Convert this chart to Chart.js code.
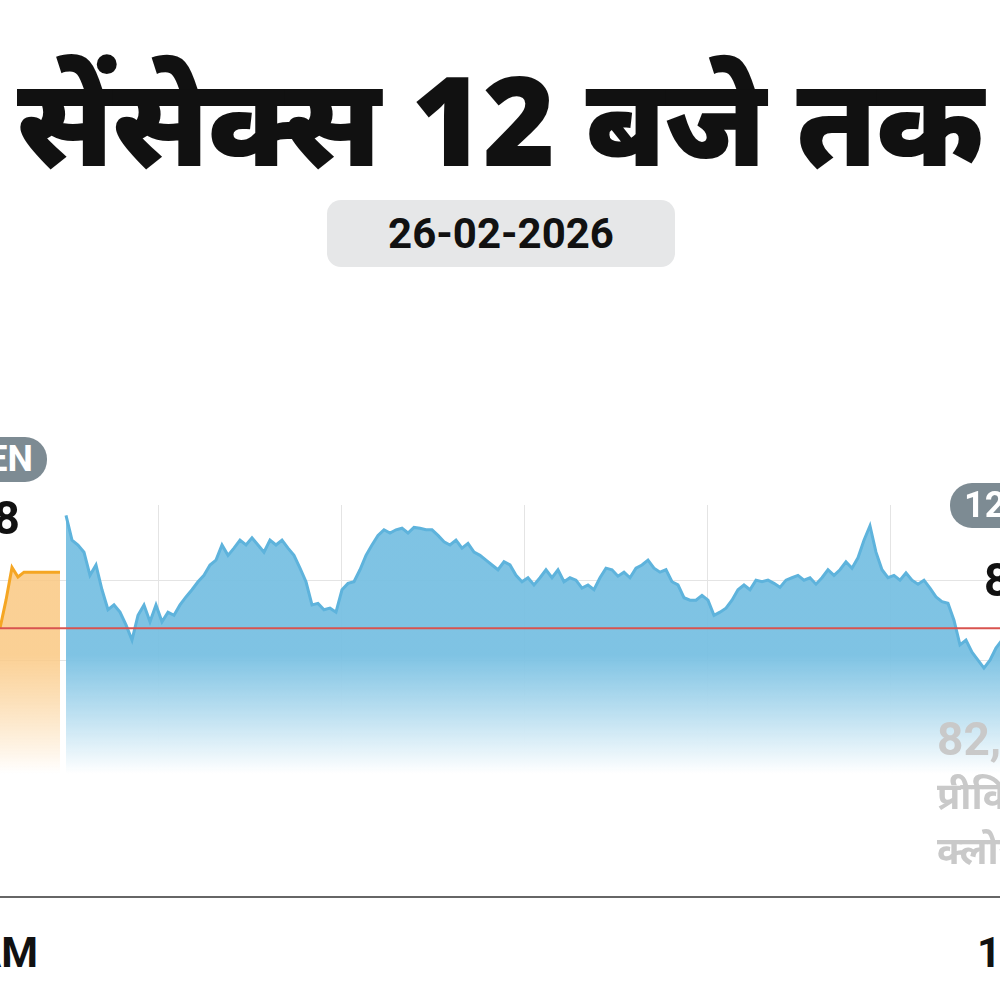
<!DOCTYPE html>
<html><head><meta charset="utf-8">
<script src="https://cdn.jsdelivr.net/npm/chart.js@4"></script>
<style>
html,body{margin:0;padding:0;width:1000px;height:1000px;overflow:hidden;background:#fff;font-family:"Liberation Sans Narrow","Roboto","Noto Sans",sans-serif;}
.t{position:absolute;white-space:nowrap;font-weight:bold;z-index:5;}
#wrap{position:absolute;left:0;top:505px;width:1000px;height:395px;z-index:1;}
</style></head><body>
<div class="t" style="left:-20px;width:1040px;top:48px;text-align:center;font-size:124px;line-height:140px;color:#111;font-family:'Noto Sans','Lato',sans-serif;font-weight:900;letter-spacing:-1px;">सेंसेक्स 12 बजे तक</div>
<div class="t" style="left:327px;top:200px;width:348px;height:67px;border-radius:14px;background:#e6e7e8;text-align:center;line-height:67px;font-size:42px;color:#111;">26-02-2026</div>
<div class="t" style="right:953px;top:437px;height:45px;padding:0 14px 0 30px;border-radius:22px;background:#7d8b93;color:#fff;line-height:45px;font-size:36px;">OPEN</div>
<div class="t" style="right:980px;top:490px;font-size:46px;line-height:56px;color:#111;">82,308</div>
<div class="t" style="left:950px;top:483px;height:45px;padding:0 30px 0 14px;border-radius:22px;background:#7d8b93;color:#fff;line-height:45px;font-size:36px;">12:00 PM</div>
<div class="t" style="left:984px;top:552px;font-size:46px;line-height:56px;color:#111;">82,240</div>
<div class="t" style="left:937px;top:712px;font-size:46px;line-height:54px;color:#c9c9c9;">82,248<br><span style="font-family:'Noto Sans',sans-serif;font-size:38px;line-height:54px;">प्रीवियस<br>क्लोज़</span></div>
<div class="t" style="left:0;top:896px;width:1000px;height:2px;background:#666;"></div>
<div class="t" style="right:962px;top:925px;font-size:42px;line-height:56px;color:#111;">9:00 AM</div>
<div class="t" style="left:977px;top:925px;font-size:42px;line-height:56px;color:#111;">12:00 PM</div>
<div id="wrap"><canvas id="c"></canvas></div>
<script>
const prevClose = 82240;
const preOpenMinutes = [-11,-10,-9,-8,-7,-6,-5,-4,-3,-2,-1];
const preOpenValues = [82240,82275,82316,82304,82310,82310,82310,82310,82310,82310,82310];
const sessionValues = [82381,82350,82344,82335,82306,82319,82288,82263,82269,82260,82244,82225,82256,82269,82248,82269,82248,82260,82256,82269,82279,82288,82298,82306,82319,82325,82344,82331,82340,82350,82344,82353,82344,82335,82350,82344,82350,82340,82331,82315,82298,82269,82271,82263,82265,82260,82288,82296,82298,82313,82331,82344,82356,82363,82359,82363,82365,82359,82366,82365,82363,82363,82356,82348,82344,82350,82340,82346,82335,82331,82325,82319,82313,82323,82319,82306,82298,82303,82294,82303,82313,82303,82313,82298,82303,82300,82290,82294,82288,82303,82315,82313,82305,82310,82303,82315,82319,82325,82315,82310,82313,82298,82294,82278,82275,82275,82281,82275,82256,82260,82265,82275,82288,82294,82288,82300,82298,82300,82296,82291,82300,82303,82306,82300,82303,82295,82303,82313,82306,82313,82323,82315,82328,82350,82368,82335,82313,82303,82306,82300,82309,82300,82295,82300,82290,82279,82273,82271,82250,82219,82225,82210,82200,82190,82200,82215,82225,82240];
const gridMinutes = [15.5,46,76.5,107,137.5];
const yGrid = [82200,82300];

const ctx = document.getElementById('c').getContext('2d');
function grad(c, top){
  const a = c.chart.chartArea; if(!a) return top;
  const g = c.chart.ctx.createLinearGradient(0,a.top,0,a.bottom);
  g.addColorStop(0,top); g.addColorStop(0.38,top); g.addColorStop(0.68,'rgba(255,255,255,1)'); g.addColorStop(1,'rgba(255,255,255,1)');
  return g;
}
const refLine = {id:'ref',afterDatasetsDraw(chart){
  const y = chart.scales.y.getPixelForValue(prevClose), a=chart.chartArea, c=chart.ctx;
  c.save(); c.strokeStyle='#d9534f'; c.lineWidth=2; c.beginPath(); c.moveTo(a.left,y); c.lineTo(a.right,y); c.stroke(); c.restore();
}};
new Chart(ctx,{
  type:'line',
  data:{datasets:[
    {data:preOpenMinutes.map((t,i)=>({x:t,y:preOpenValues[i]})),borderColor:'#f5a623',borderWidth:3,pointRadius:0,fill:'start',
     backgroundColor:c=>grad(c,'rgba(250,200,130,0.85)')},
    {data:sessionValues.map((v,i)=>({x:i,y:v})),borderColor:'#5eb3dc',borderWidth:3,pointRadius:0,fill:'start',
     backgroundColor:c=>grad(c,'rgba(120,192,226,0.95)')}
  ]},
  options:{responsive:true,maintainAspectRatio:false,animation:false,
    plugins:{legend:{display:false},tooltip:{enabled:false}},
    layout:{padding:0},
    scales:{
      x:{type:'linear',min:-11,max:155.67,
        afterBuildTicks:s=>{s.ticks=gridMinutes.map(v=>({value:v}));},
        ticks:{display:false},grid:{color:'#e4e4e4',drawTicks:false},
        border:{display:false}},
      y:{min:81900,max:82394,
        afterBuildTicks:s=>{s.ticks=yGrid.map(v=>({value:v}));},
        ticks:{display:false},grid:{color:'#e4e4e4',drawTicks:false},border:{display:false}}
    }},
  plugins:[refLine]
});
</script>
</body></html>
